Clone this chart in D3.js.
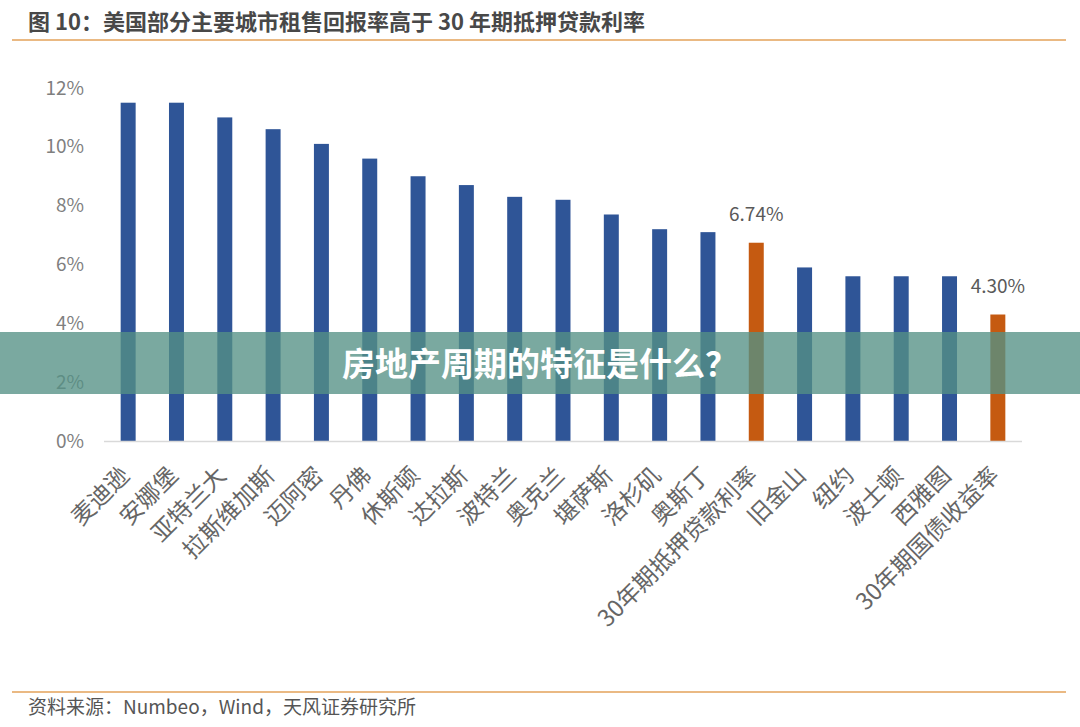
<!DOCTYPE html>
<html>
<head>
<meta charset="utf-8">
<script src="https://cdn.jsdelivr.net/npm/d3@7"></script>
<style>
  html, body { margin: 0; padding: 0; background: #fff; }
  svg text { font-family: "Noto Sans CJK SC", "Noto Sans", sans-serif; }
</style>
</head>
<body>
<svg id="chart" width="1080" height="727"></svg>
<script>
// data
const cities = ["麦迪逊", "安娜堡", "亚特兰大", "拉斯维加斯", "迈阿密", "丹佛", "休斯顿", "达拉斯", "波特兰", "奥克兰",
    "堪萨斯", "洛杉矶", "奥斯丁", "30年期抵押贷款利率", "旧金山", "纽约", "波士顿", "西雅图", "30年期国债收益率"];
const yields = [11.5, 11.5, 11.0, 10.6, 10.1, 9.6, 9.0, 8.7, 8.3, 8.2,
    7.7, 7.2, 7.1, 6.74, 5.9, 5.6, 5.6, 5.6, 4.30];
const highlighted = ["30年期抵押贷款利率", "30年期国债收益率"];
const yTicks = [0, 2, 4, 6, 8, 10, 12];

const svg = d3.select("#chart");
const W = 1080, H = 727;

// title + rules
svg.append("text")
    .attr("x", 28).attr("y", 30)
    .attr("font-size", 22).attr("font-weight", "bold")
    .attr("fill", "#484848")
    .text("图 10：美国部分主要城市租售回报率高于 30 年期抵押贷款利率");
svg.append("line").attr("x1", 12).attr("x2", 1066).attr("y1", 40).attr("y2", 40)
    .attr("stroke", "#E3A25A").attr("stroke-width", 1.5);
svg.append("line").attr("x1", 12).attr("x2", 1066).attr("y1", 692).attr("y2", 692)
    .attr("stroke", "#E3A25A").attr("stroke-width", 1.5);
svg.append("text")
    .attr("x", 28).attr("y", 714)
    .attr("font-size", 19).attr("fill", "#555")
    .text("资料来源：Numbeo，Wind，天风证券研究所");

// scales
const x = d3.scaleBand().domain(cities).range([104, 1022]).paddingInner(0.69).paddingOuter(0.345);
const y = d3.scaleLinear().domain([0, 12]).range([441, 88]);

// y axis labels (no line)
svg.append("g").selectAll("text")
    .data(yTicks)
    .enter().append("text")
    .attr("x", 84)
    .attr("y", d => y(d))
    .attr("dy", "0.35em")
    .attr("text-anchor", "end")
    .attr("font-size", 19)
    .attr("fill", "#7f7f7f")
    .text(d => d + "%");

// bars
svg.append("g").selectAll("rect")
    .data(cities)
    .enter().append("rect")
    .attr("x", d => x(d))
    .attr("width", x.bandwidth())
    .attr("y", (d, i) => y(yields[i]))
    .attr("height", (d, i) => y(0) - y(yields[i]))
    .attr("fill", d => highlighted.includes(d) ? "#C55A11" : "#2F5597");

// baseline
svg.append("line").attr("x1", 104).attr("x2", 1022).attr("y1", y(0) + 0.5).attr("y2", y(0) + 0.5)
    .attr("stroke", "#d9d9d9").attr("stroke-width", 1.5);

// value labels for the two rates
svg.append("g").selectAll("text")
    .data(highlighted)
    .enter().append("text")
    .attr("x", d => x(d) + x.bandwidth() / 2)
    .attr("y", d => y(yields[cities.indexOf(d)]) - 22)
    .attr("text-anchor", "middle")
    .attr("font-size", 19)
    .attr("fill", "#595959")
    .text(d => yields[cities.indexOf(d)].toFixed(2) + "%");

// x labels rotated
svg.append("g").selectAll("text")
    .data(cities)
    .enter().append("text")
    .attr("transform", d => `translate(${x(d) + x.bandwidth() / 2 - 3},${471}) rotate(-45)`)
    .attr("text-anchor", "end")
    .attr("dy", "0.35em")
    .attr("font-size", 23.5)
    .attr("fill", "#666")
    .text(d => d);

// overlay banner
svg.append("rect").attr("x", 0).attr("y", 332).attr("width", W).attr("height", 62)
    .attr("fill", "rgb(84,145,133)").attr("opacity", 0.78);
svg.append("text")
    .attr("x", 540).attr("y", 364)
    .attr("dy", "0.35em")
    .attr("text-anchor", "middle")
    .attr("font-size", 33).attr("font-weight", "bold")
    .attr("fill", "#fff")
    .text("房地产周期的特征是什么？");
</script>
</body>
</html>
